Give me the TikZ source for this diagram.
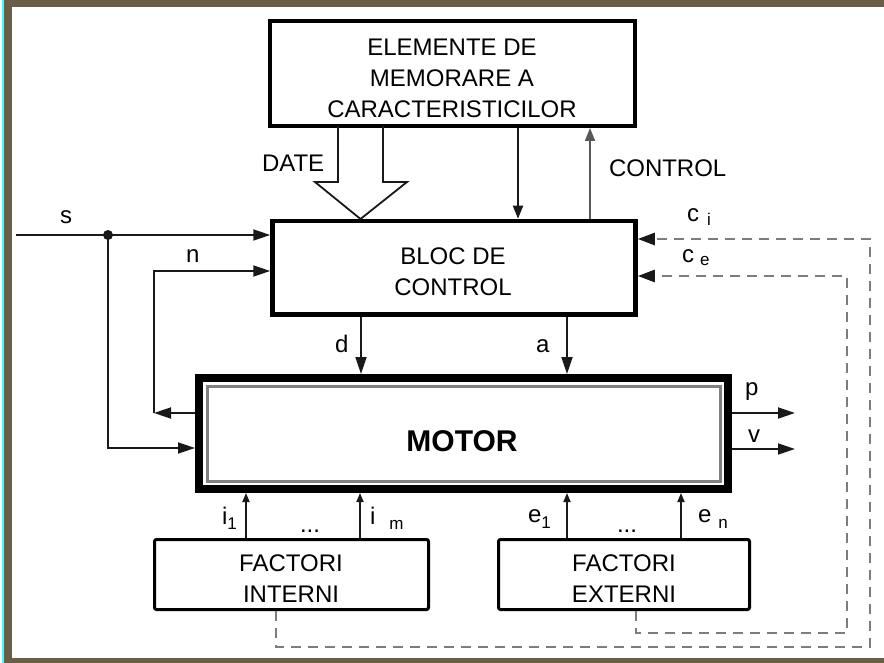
\documentclass[tikz,border=0pt]{standalone}
\usepackage{fontspec}
\setmainfont{Liberation Sans}
\usetikzlibrary{arrows.meta}
\definecolor{framec}{RGB}{106,94,70}
\definecolor{cyanc}{RGB}{64,255,255}
\definecolor{lnc}{RGB}{25,25,25}
\definecolor{dshc}{RGB}{125,125,125}
\newcommand\lblsub{\fontsize{17}{17}\selectfont}
\begin{document}
\begin{tikzpicture}[x=1pt,y=-1pt,
  lbl/.style={font=\fontsize{24}{31}\selectfont, inner sep=0pt, outer sep=0pt},
  blk/.style={draw, inner sep=0pt},
  conn/.style={draw=lnc, line width=1.8pt},
  arrB/.style={conn, -{Triangle[length=17pt,width=11pt]}},
  arrM/.style={conn, -{Triangle[length=13pt,width=10pt]}},
  arrS/.style={conn, -{Triangle[length=9pt,width=7pt]}},
  dsh/.style={draw=dshc, line width=2.5pt, dash pattern=on 10pt off 7pt, -{Triangle[length=17pt,width=12pt,color=lnc]}}
]
\useasboundingbox (0,0) rectangle (884,663);
\fill[white] (0,0) rectangle (884,663);
% frame
\fill[framec] (4,0) rectangle (884,7);
\fill[framec] (4,0) rectangle (12,663);
\fill[framec] (4,658) rectangle (884,663);
\fill[cyanc] (2,0) rectangle (4,663);

% blocks
\node[blk, line width=4pt, minimum width=365pt, minimum height=105pt] (mem) at (452.5,73.5) {};
\node[lbl, align=center] (tmem) at (452,78) {ELEMENTE DE\\MEMORARE A\\CARACTERISTICILOR};

\node[blk, line width=4.5pt, minimum width=363pt, minimum height=93.5pt] (bloc) at (454,267.75) {};
\node[lbl, align=center] (tbloc) at (453,271.5) {BLOC DE\\CONTROL};

\node[blk, line width=8pt, minimum width=529pt, minimum height=111pt] (motor) at (463.5,433.5) {};
\node[blk, draw=gray, line width=3pt, minimum width=513pt, minimum height=95pt] (motorin) at (motor.center) {};
\node[font=\fontsize{30}{36}\selectfont\bfseries, inner sep=0pt] (tmotor) at (462,441) {MOTOR};

\node[blk, line width=3pt, rounded corners=2pt, minimum width=274pt, minimum height=70pt] (fi) at (291.5,574.5) {};
\node[lbl, align=center] (tfi) at (291,579) {FACTORI\\INTERNI};
\node[blk, line width=3pt, rounded corners=2pt, minimum width=251pt, minimum height=70pt] (fe) at (624,574.5) {};
\node[lbl, align=center] (tfe) at (624,579) {FACTORI\\EXTERNI};

% coordinates
\coordinate (sstart) at (16,235);
\coordinate (sdot) at (108,235);
\coordinate (sbot) at (108,448);
\coordinate (nb) at (154,413);
\coordinate (nt) at (154,271);
\coordinate (x518) at (518,0);
\coordinate (x590) at (590,0);
\coordinate (x361) at (361,0);
\coordinate (x567) at (567,0);
\coordinate (x246) at (246,0);
\coordinate (x360) at (360,0);
\coordinate (x681) at (681,0);
\coordinate (pend) at (795,413);
\coordinate (vend) at (795,449);
\coordinate (ci1) at (276,647);
\coordinate (ci2) at (870,647);
\coordinate (ci3) at (870,239);
\coordinate (ce1) at (636,633);
\coordinate (ce2) at (847,633);
\coordinate (ce3) at (847,276);

% DATE hollow arrow
\draw[draw=lnc, line width=1.8pt, line join=miter]
  (338,126) -- (338,182) -- (315,182) -- (360.5,219) -- (407,182) -- (383,182) -- (383,126);

% connectors
\draw[arrM] (mem.south -| x518) -- (bloc.north -| x518);
\draw[arrM, draw=gray!70!black] (bloc.north -| x590) -- (mem.south -| x590);

\draw[arrB] (sstart) -- (bloc.west |- sstart);
\fill[lnc] (sdot) circle (5pt);
\draw[arrB] (sdot) -- (sbot) -- (motor.west |- sbot);
\draw[arrB] (motor.west |- nb) -- (nb);
\draw[arrB] (nb) -- (nt) -- (bloc.west |- nt);

\draw[arrB] (bloc.south -| x361) -- (motor.north -| x361);
\draw[arrB] (bloc.south -| x567) -- (motor.north -| x567);

\draw[arrB] (motor.east |- pend) -- (pend);
\draw[arrB] (motor.east |- vend) -- (vend);

\draw[arrS] (fi.north -| x246) -- (motor.south -| x246);
\draw[arrS] (fi.north -| x360) -- (motor.south -| x360);
\draw[arrS] (fe.north -| x567) -- (motor.south -| x567);
\draw[arrS] (fe.north -| x681) -- (motor.south -| x681);

\draw[dsh] (fi.south -| ci1) -- (ci1) -- (ci2) -- (ci3) -- (bloc.east |- ci3);
\draw[dsh] (fe.south -| ce1) -- (ce1) -- (ce2) -- (ce3) -- (bloc.east |- ce3);

% labels
\node[lbl, anchor=base west] (ldate) at (262,172) {DATE};
\node[lbl, anchor=base west] (lctrl) at (609,177) {CONTROL};
\node[lbl, anchor=base west] (ls) at (60,224) {s};
\node[lbl, anchor=base west] (ln) at (186,263) {n};
\node[lbl, anchor=base west] (ld) at (335,352) {d};
\node[lbl, anchor=base west] (la) at (536,352) {a};
\node[lbl, anchor=base west] (lp) at (745,395) {p};
\node[lbl, anchor=base west] (lv) at (748,442) {v};
\node[lbl, anchor=base west] (lci) at (687,222) {c\hspace{8pt}\raisebox{-4pt}{\lblsub i}};
\node[lbl, anchor=base west] (lce) at (682,262) {c\hspace{6pt}\raisebox{-3pt}{\lblsub e}};
\node[lbl, anchor=base west] (li1) at (222,524) {i\raisebox{-5pt}{\lblsub 1}};
\node[lbl, anchor=base west] (lim) at (370,524) {i\hspace{14pt}\raisebox{-5pt}{\lblsub m}};
\node[lbl, anchor=base west] (le1) at (528,522) {e\raisebox{-6pt}{\lblsub 1}};
\node[lbl, anchor=base west] (len) at (698,522) {e\hspace{7pt}\raisebox{-6pt}{\lblsub n}};
\node[lbl, anchor=base] (dots1) at (310,532) {...};
\node[lbl, anchor=base] (dots2) at (627,532) {...};
\end{tikzpicture}
\end{document}
